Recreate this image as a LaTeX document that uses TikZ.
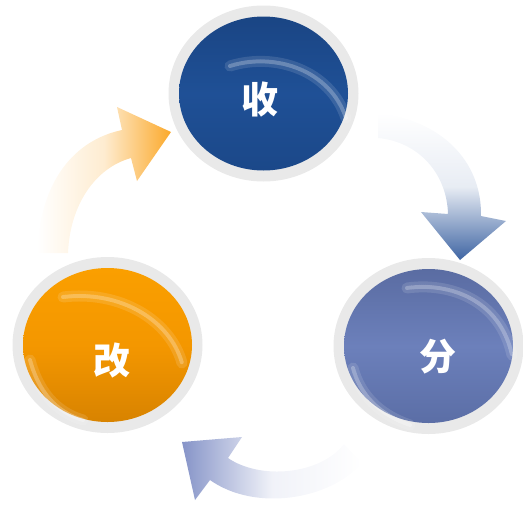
\documentclass[tikz,border=0pt]{standalone}
\usepackage{fontspec}
\newfontfamily\cjk{Noto Sans CJK SC}
\usetikzlibrary{shapes.geometric}
\definecolor{ringgray}{HTML}{E9E9E9}
\definecolor{arrowblue}{HTML}{3F65A3}
\definecolor{arroworange}{HTML}{FBA92B}
\definecolor{arrowlilac}{HTML}{8694C8}
\definecolor{shoutop}{HTML}{1A4584}
\definecolor{shoumid}{HTML}{1F5096}
\definecolor{shoubot}{HTML}{1B4889}
\definecolor{fentop}{HTML}{5A6CA2}
\definecolor{fenmid}{HTML}{6C80BB}
\definecolor{fenbot}{HTML}{5B6EA6}
\definecolor{gaitop}{HTML}{FA9F00}
\definecolor{gaimid}{HTML}{F49700}
\definecolor{gaibot}{HTML}{D88300}

\begin{document}
\begin{tikzpicture}[x=1pt, y=-1pt,
    glint/.style={draw=white, opacity=0.12, line width=11pt, line cap=round},
    glintcore/.style={draw=white, opacity=0.25, line width=4pt, line cap=round, dash pattern=on 1pt off 1pt},
    txt/.style={text=white, font=\cjk\bfseries\fontsize{37}{37}\selectfont, inner sep=0pt}]
            \useasboundingbox (0,0) rectangle (523,507);
            % arrows
            \shade[left color=white, right color=arroworange, middle color=arroworange!22]
                (37,253) .. controls (40,180) and (75,140) .. (122,130) -- (117,107) -- (171,132)
                -- (137,181) -- (131,158) .. controls (95,168) and (70,205) .. (68,253) -- cycle;
            \shade[top color=white, bottom color=arrowblue, middle color=arrowblue!12]
                (378,113) .. controls (440,120) and (482,160) .. (481,216) -- (506,221) -- (460,260)
                -- (421,212) -- (448,214) .. controls (447,175) and (420,142) .. (378,138) -- cycle;
            \shade[right color=white, left color=arrowlilac, middle color=arrowlilac!12]
                (362,463) .. controls (330,500) and (255,512) .. (210,480) -- (195,500) -- (182,442)
                -- (242,437) -- (228,458) .. controls (260,480) and (320,475) .. (344,444) -- cycle;
            % circles
            \foreach \x/\y/\name in {263.5/93.5/shou, 107.5/345/gai, 428.5/346/fen} {
                \node[ellipse, fill=ringgray, minimum width=190, minimum height=176] (\name-ring) at (\x,\y) {};
                \node[ellipse, top color=\name top, bottom color=\name bot, middle color=\name mid,
                    minimum width=169, minimum height=154] (\name) at (\x,\y) {};
            }
            % highlights
            \foreach \s in {glint, glintcore} {
                \draw[\s] (230,66) .. controls (275,52) and (330,70) .. (346,118);
                \draw[\s] (63,297) .. controls (120,290) and (170,320) .. (182,363);
                \draw[\s] (30,360) .. controls (38,390) and (55,412) .. (83,420);
                \draw[\s] (407,288) .. controls (450,282) and (500,300) .. (512,355);
                \draw[\s] (353,368) .. controls (360,395) and (380,415) .. (410,425);
            }
            % labels
            \node[txt] (shou-txt) at (260,100) {收};
            \node[txt] (gai-txt) at (112,360) {改};
            \node[txt] (fen-txt) at (438,357) {分};
\end{tikzpicture}
\end{document}
